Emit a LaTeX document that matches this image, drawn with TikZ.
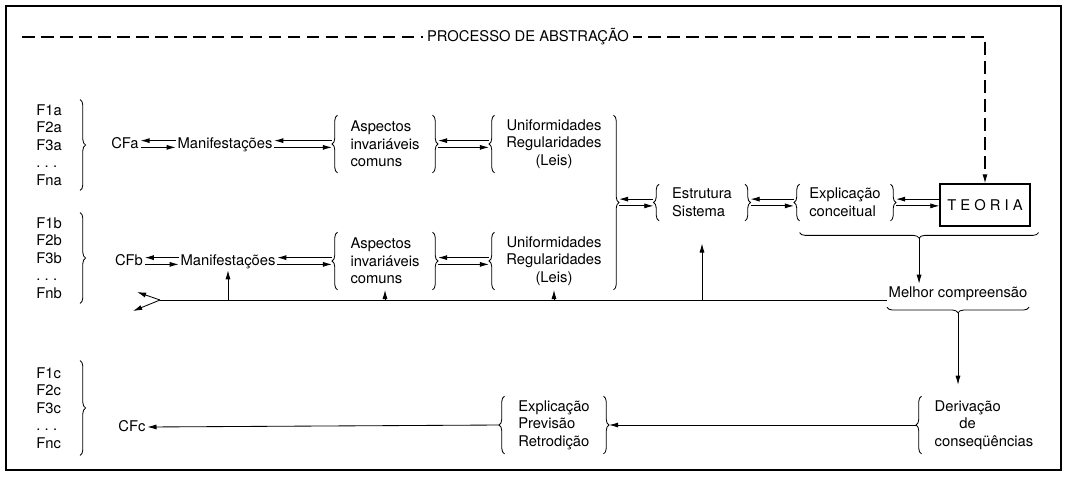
\documentclass[tikz,border=0pt]{standalone}
\usepackage{fontspec}
\setmainfont{TeX Gyre Heros}
\usepackage{tikz}
\usetikzlibrary{arrows.meta,calc,decorations.pathreplacing}
\tikzstyle{flist}=[anchor=east,
align=left,
text width=0.8cm,
inner xsep=0.28cm,
inner ysep=0pt,
minimum height=2.25cm]
\tikzstyle{word}=[inner sep=1pt,
text height=1.6ex,
text depth=0.4ex]
\tikzstyle{grp}=[align=left,
inner sep=0pt,
minimum height=1.425cm]
\tikzstyle{theory}=[rectangle,
draw,
line width=0.8pt,
minimum width=2.25cm,
minimum height=1.05cm]
\tikzstyle{brc}=[decorate,
decoration={brace,amplitude=4pt}]
\tikzstyle{flow}=[->,
line width=0.6pt]
\tikzstyle{abstr}=[->,
dash pattern=on 9pt off 4.5pt,
line width=0.75pt]
\newcommand{\dotrow}{\mbox{.\hspace{3pt}.\hspace{3pt}.}}

\begin{document}
\begin{tikzpicture}[>={Latex[length=6.5pt,width=3.6pt]},x=0.025cm,y=-0.025cm,line width=0.6pt,
	font=\fontsize{10.5}{12.5}\selectfont]
		\useasboundingbox (0,0) rectangle (1067,476);
		% outer frame
		\draw[line width=1.1pt] (6,6) rectangle (1061,470);
		
		% lists of facts on the left
		\node (fa) [flist] at (80,145) {F1a\\F2a\\F3a\\\dotrow\\Fna};
		\node (fb) [flist] at (80,258) {F1b\\F2b\\F3b\\\dotrow\\Fnb};
		\node (fc) [flist,minimum height=2.35cm] at (80,408) {F1c\\F2c\\F3c\\\dotrow\\Fnc};
		
		% first row
		\node (cfa)  [word] at (125,144) {CFa};
		\node (mana) [word] at (225,144) {Manifestações};
		\node (aspa) [grp,minimum width=2.35cm] at (385,144) {Aspectos\\invariáveis\\comuns};
		\node (unia) [grp,align=center,minimum width=2.95cm] at (554,144) {Uniformidades\\Regularidades\\(Leis)};
		
		% second row
		\node (cfb)  [word] at (129,261) {CFb};
		\node (manb) [word] at (228,261) {Manifestações};
		\node (aspb) [grp,minimum width=2.35cm] at (385,261) {Aspectos\\invariáveis\\comuns};
		\node (unib) [grp,align=center,minimum width=2.95cm] at (554,261) {Uniformidades\\Regularidades\\(Leis)};
		
		% theory side
		\node (est)    [grp,minimum width=2.125cm,minimum height=0.9cm] at (702,202.5) {Estrutura\\Sistema};
		\node (expc)   [grp,minimum width=2.25cm,minimum height=0.9cm] at (845,202.5) {Explicação\\conceitual};
		\node (teoria) [theory] at (985,205) {T E O R I A};
		\node (melhor) [word] at (958,293) {Melhor compreensão};
		
		% third row
		\node (deriv) [grp,minimum width=3.1cm] at (984,425) {Derivação\\\hspace*{17.5pt}de\\conseqüências};
		\node (expl)  [grp,minimum width=2.45cm] at (554,425) {Explicação\\Previsão\\Retrodição};
		\node (cfc)   [word] at (132,427) {CFc};
		
		% braces round the groups
		\foreach \n in {fa,fb,fc}
		\draw[brc] (\n.north east) -- (\n.south east);
		\foreach \n in {aspa,aspb,est,expc,expl}{
			\draw[brc] (\n.south west) -- (\n.north west);
			\draw[brc] (\n.north east) -- (\n.south east);
		}
		\foreach \n in {unia,unib,deriv}
		\draw[brc] (\n.south west) -- (\n.north west);
		\draw[brc] (unia.north east) -- (unib.south east);
		\coordinate (lawtip) at ($(unia.north east)!0.5!(unib.south east)+(5.6,0)$);
		\coordinate (teoL) at (teoria.west |- expc.west);
		
		% two way arrows
		\path[flow]
		([yshift=2.4pt]mana.west) edge ([yshift=2.4pt]cfa.east)
		([yshift=-2.4pt]cfa.east) edge ([yshift=-2.4pt]mana.west)
		([yshift=2.4pt,xshift=-4pt]aspa.west) edge ([yshift=2.4pt]mana.east)
		([yshift=-2.4pt]mana.east) edge ([yshift=-2.4pt,xshift=-4pt]aspa.west)
		([yshift=2.4pt,xshift=-4pt]unia.west) edge ([yshift=2.4pt,xshift=4pt]aspa.east)
		([yshift=-2.4pt,xshift=4pt]aspa.east) edge ([yshift=-2.4pt,xshift=-4pt]unia.west)
		([yshift=2.4pt]manb.west) edge ([yshift=2.4pt]cfb.east)
		([yshift=-2.4pt]cfb.east) edge ([yshift=-2.4pt]manb.west)
		([yshift=2.4pt,xshift=-4pt]aspb.west) edge ([yshift=2.4pt]manb.east)
		([yshift=-2.4pt]manb.east) edge ([yshift=-2.4pt,xshift=-4pt]aspb.west)
		([yshift=2.4pt,xshift=-4pt]unib.west) edge ([yshift=2.4pt,xshift=4pt]aspb.east)
		([yshift=-2.4pt,xshift=4pt]aspb.east) edge ([yshift=-2.4pt,xshift=-4pt]unib.west)
		([yshift=2.4pt,xshift=-4pt]est.west) edge ([yshift=2.4pt]lawtip)
		([yshift=-2.4pt]lawtip) edge ([yshift=-2.4pt,xshift=-4pt]est.west)
		([yshift=2.4pt,xshift=-4pt]expc.west) edge ([yshift=2.4pt,xshift=4pt]est.east)
		([yshift=-2.4pt,xshift=4pt]est.east) edge ([yshift=-2.4pt,xshift=-4pt]expc.west)
		([yshift=2.4pt]teoL) edge ([yshift=2.4pt,xshift=4pt]expc.east)
		([yshift=-2.4pt,xshift=4pt]expc.east) edge ([yshift=-2.4pt]teoL)
		;
		
		% process of abstraction
		\coordinate (dstart) at (22,37);
		\draw[abstr] (dstart) -| (teoria.north);
		\node (abs) [fill=white,inner xsep=3pt] at (528,37) {PROCESSO DE ABSTRAÇÃO};
		
		% better understanding
		\coordinate (ub1R) at ($(teoria.south east)+(8,6)$);
		\coordinate (ub1L) at (expc.west |- ub1R);
		\draw[brc] (ub1R) -- (ub1L);
		\coordinate (ub1tip) at ($(ub1L)!0.5!(ub1R)+(0,5.6)$);
		\draw[flow] (ub1tip) -- (ub1tip |- melhor.north);
		\coordinate (ub2R) at ($(melhor.south east)+(0,5)$);
		\coordinate (ub2L) at ($(melhor.south west)+(0,5)$);
		\draw[brc] (ub2R) -- (ub2L);
		\coordinate (ub2tip) at ($(ub2L)!0.5!(ub2R)+(0,5.6)$);
		\draw[flow,shorten >=8pt] (ub2tip) -- (ub2tip |- deriv.north);
		
		% feedback line
		\coordinate (fork) at (160,300);
		\coordinate (lineEnd) at (melhor.west |- fork);
		\coordinate (toB) at (137,292);
		\coordinate (toC) at (133,311);
		\draw (lineEnd) -- (fork);
		\draw[flow] (fork) -- (toB);
		\draw[flow] (fork) -- (toC);
		\draw[flow] (manb |- fork) -- (manb.south);
		\draw[flow] (aspb |- fork) -- (aspb.south);
		\draw[flow] (unib |- fork) -- (unib.south);
		\draw[flow,shorten >=16pt] (est |- fork) -- (est.south);
		
		% consequences
		\draw[flow] ([xshift=-4pt]deriv.west) -- ([xshift=4pt]expl.east);
		\draw[flow] ([xshift=-4pt]expl.west) -- (cfc.east);
\end{tikzpicture}
\end{document}
